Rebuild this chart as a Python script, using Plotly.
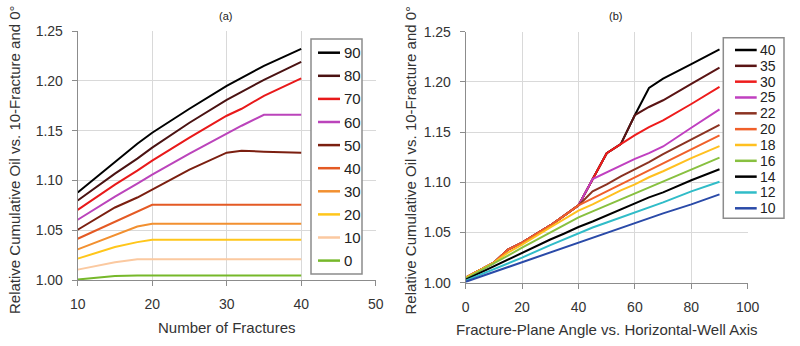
import plotly.graph_objects as go

# ---------------- data: panel (a) ----------------
n_fractures = [10, 15, 18, 20, 25, 30, 32, 35, 40]
angle_labels_a = ["90", "80", "70", "60", "50", "40", "30", "20", "10", "0"]
a_90 = [1.088, 1.119, 1.137, 1.148, 1.172, 1.195, 1.203, 1.215, 1.232]
a_80 = [1.080, 1.107, 1.122, 1.133, 1.158, 1.181, 1.189, 1.201, 1.219]
a_70 = [1.0707, 1.096, 1.110, 1.120, 1.143, 1.165, 1.172, 1.185, 1.2025]
a_60 = [1.0607, 1.084, 1.097, 1.106, 1.127, 1.147, 1.155, 1.166, 1.166]
a_50 = [1.0507, 1.073, 1.083, 1.091, 1.111, 1.128, 1.130, 1.129, 1.128]
a_40 = [1.0417, 1.0587, 1.0689, 1.0757, 1.0757, 1.0757, 1.0757, 1.0757, 1.0757]
a_30 = [1.031, 1.0453, 1.054, 1.0567, 1.0567, 1.0567, 1.0567, 1.0567, 1.0567]
a_20 = [1.0217, 1.0333, 1.0383, 1.0407, 1.0407, 1.0407, 1.0407, 1.0407, 1.0407]
a_10 = [1.0107, 1.018, 1.021, 1.021, 1.021, 1.021, 1.021, 1.021, 1.021]
a_0 = [1.0007, 1.0043, 1.0047, 1.0047, 1.0047, 1.0047, 1.0047, 1.0047, 1.0047]
colors_a = ["#000000", "#4a1212", "#e8191a", "#bb44bb", "#7b1f10",
            "#e45a24", "#f29030", "#ffc61a", "#fbc9a0", "#76b82a"]

# ---------------- data: panel (b) ----------------
angles = [0, 10, 15, 20, 30, 35, 40, 45, 50, 55, 60, 65, 70, 80, 90]
frac_labels_b = ["40", "35", "30", "25", "22", "20", "18", "16", "14", "12", "10"]
b_40 = [1.005, 1.020, 1.033, 1.040, 1.057, 1.067, 1.077, 1.103, 1.129, 1.138, 1.167, 1.194, 1.2033, 1.2177, 1.2323]
b_35 = [1.005, 1.020, 1.033, 1.040, 1.057, 1.067, 1.077, 1.103, 1.129, 1.138, 1.167, 1.175, 1.1817, 1.198, 1.2143]
b_30 = [1.005, 1.020, 1.033, 1.040, 1.057, 1.067, 1.077, 1.103, 1.129, 1.138, 1.147, 1.155, 1.1617, 1.178, 1.195]
b_25 = [1.005, 1.020, 1.033, 1.040, 1.057, 1.067, 1.077, 1.1033, 1.110, 1.117, 1.1233, 1.129, 1.1357, 1.1543, 1.1727]
b_22 = [1.005, 1.020, 1.033, 1.040, 1.057, 1.067, 1.077, 1.091, 1.098, 1.106, 1.113, 1.120, 1.128, 1.143, 1.1573]
b_20 = [1.005, 1.020, 1.033, 1.040, 1.057, 1.067, 1.077, 1.084, 1.091, 1.098, 1.105, 1.112, 1.119, 1.133, 1.1467]
b_18 = [1.005, 1.020, 1.030, 1.038, 1.055, 1.063, 1.0717, 1.078, 1.085, 1.092, 1.098, 1.105, 1.111, 1.124, 1.136]
b_16 = [1.004, 1.019, 1.027, 1.035, 1.050, 1.0575, 1.065, 1.071, 1.077, 1.083, 1.089, 1.095, 1.101, 1.113, 1.1245]
b_14 = [1.003, 1.0165, 1.023, 1.030, 1.043, 1.049, 1.0555, 1.061, 1.067, 1.073, 1.079, 1.085, 1.090, 1.102, 1.113]
b_12 = [1.002, 1.0135, 1.019, 1.025, 1.0375, 1.0435, 1.0495, 1.055, 1.060, 1.065, 1.070, 1.075, 1.080, 1.091, 1.1006]
b_10 = [1.001, 1.0107, 1.0155, 1.020, 1.030, 1.035, 1.040, 1.045, 1.0495, 1.054, 1.059, 1.064, 1.069, 1.078, 1.088]
colors_b = ["#000000", "#5a1414", "#ee1c1c", "#c040c0", "#8b3322", "#f0602a",
            "#ffc020", "#88c040", "#000000", "#30bcc8", "#2a4aa8"]

series_a = [a_90, a_80, a_70, a_60, a_50, a_40, a_30, a_20, a_10, a_0]
series_b = [b_40, b_35, b_30, b_25, b_22, b_20, b_18, b_16, b_14, b_12, b_10]

W, H = 800, 346
FONT = "Liberation Sans, Arial, sans-serif"


def fx(px):
    return px / W


def fy(py):
    return 1 - py / H


fig = go.Figure()

for lab, ys, c in zip(angle_labels_a, series_a, colors_a):
    fig.add_trace(go.Scatter(x=n_fractures, y=ys, mode="lines", name=lab,
                             line=dict(color=c, width=2), showlegend=False,
                             xaxis="x", yaxis="y"))

for lab, ys, c in zip(frac_labels_b, series_b, colors_b):
    fig.add_trace(go.Scatter(x=angles, y=ys, mode="lines", name=lab,
                             line=dict(color=c, width=2), showlegend=False,
                             xaxis="x2", yaxis="y2"))

axis_common = dict(showline=True, linecolor="#8c8c8c", linewidth=1,
                   showgrid=True, gridcolor="#d9d9d9", gridwidth=1,
                   zeroline=False, ticks="outside", ticklen=5,
                   tickcolor="#8c8c8c", automargin=False,
                   tickfont=dict(family=FONT, size=14, color="#333333"))

fig.update_layout(
    width=W, height=H,
    margin=dict(l=0, r=0, t=0, b=0, autoexpand=False),
    paper_bgcolor="white", plot_bgcolor="white",
    font=dict(family=FONT, color="#333333"),
    xaxis=dict(domain=[fx(77.7), fx(375.7)], range=[10, 50], dtick=10,
               anchor="y", ticklabelstandoff=6, **axis_common),
    yaxis=dict(domain=[fy(280.3), fy(31)], range=[1.0, 1.25], dtick=0.05,
               tickformat=".2f", anchor="x", ticklabelstandoff=6, **axis_common),
    xaxis2=dict(domain=[fx(465.7), fx(747.7)], range=[0, 100], dtick=20,
                anchor="y2", ticklabelstandoff=6, **axis_common),
    yaxis2=dict(domain=[fy(282.7), fy(31.7)], range=[1.0, 1.25], dtick=0.05,
                tickformat=".2f", anchor="x2", ticklabelstandoff=6, **axis_common),
)

ann = []
shapes = []


def text(t, px, py, size, color="#333", angle=0, xanchor="center"):
    ann.append(dict(text=t, x=fx(px), y=fy(py), xref="paper", yref="paper",
                    xanchor=xanchor, yanchor="middle", showarrow=False,
                    textangle=angle, font=dict(family=FONT, size=size, color=color)))


# panel labels
text("(a)", 226, 16, 11, "#222")
text("(b)", 615, 16, 11, "#222")

# axis titles
ytitle = "Relative Cumulative Oil vs. 10-Fracture and 0°"
text("Number of Fractures", 226.7, 327, 15)
text("Fracture-Plane Angle vs. Horizontal-Well Axis", 606.7, 329, 15)
text(ytitle, 14, 160, 15, angle=-90)
text(ytitle, 409.5, 160, 15, angle=-90)


def legend(labels, colors, box, line_x, text_x, y0, step, fsize):
    x0, x1, yt, yb = box
    shapes.append(dict(type="rect", xref="paper", yref="paper",
                       x0=fx(x0), x1=fx(x1), y0=fy(yb), y1=fy(yt),
                       line=dict(color="#8c8c8c", width=1.5),
                       fillcolor="white", layer="above"))
    for i, (lab, c) in enumerate(zip(labels, colors)):
        yy = y0 + i * step
        shapes.append(dict(type="line", xref="paper", yref="paper",
                           x0=fx(line_x[0]), x1=fx(line_x[1]), y0=fy(yy), y1=fy(yy),
                           line=dict(color=c, width=2.5), layer="above"))
        text(lab, text_x, yy, fsize, "#222", xanchor="left")


legend(angle_labels_a, colors_a, (311, 362, 39, 274), (318, 340), 342, 52.7, 23.1, 15)
legend(frac_labels_b, colors_b, (723.3, 784, 37.7, 218.3), (735, 756.7), 758, 50, 15.83, 14)

fig.update_layout(annotations=ann, shapes=shapes)

fig.write_html("out.html")
